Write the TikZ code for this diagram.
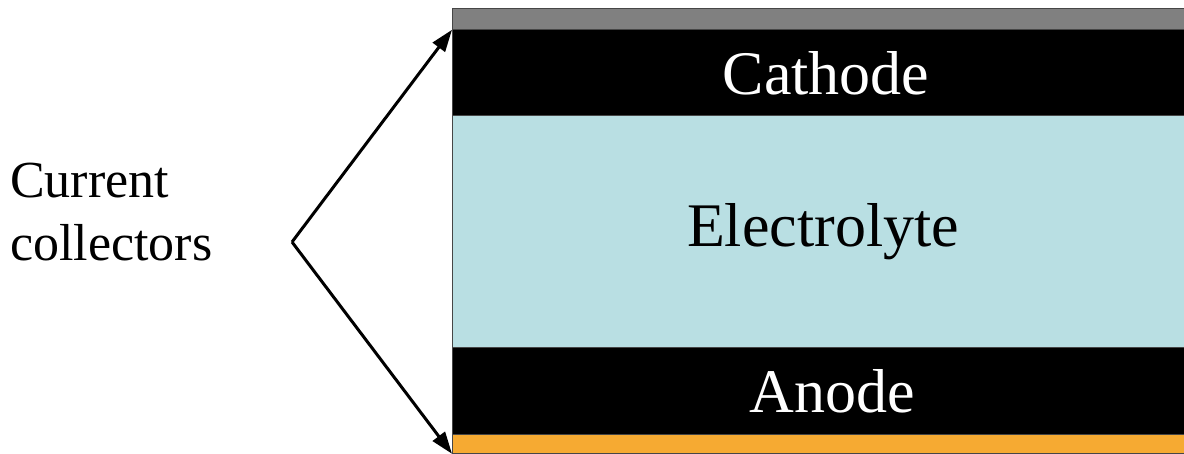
\documentclass[tikz,border=0pt]{standalone}
\usepackage{fontspec}
\setmainfont{Liberation Serif}
\newfontfamily\timesfont{Liberation Serif}
\usetikzlibrary{arrows.meta}
\definecolor{collgray}{RGB}{128,128,128}
\definecolor{electro}{RGB}{185,223,227}
\definecolor{collorange}{RGB}{246,170,50}
\definecolor{edgegray}{RGB}{70,70,70}
\begin{document}
\begin{tikzpicture}[x=1pt,y=-1pt,
  layer/.style={draw=edgegray,line width=0.8pt,inner sep=0pt,anchor=north west,minimum width=760pt},
  lbl/.style={font=\timesfont\fontsize{62}{74}\selectfont,inner sep=0pt},
  pointer/.style={line width=3pt,-{Triangle[length=22pt,width=15pt]}}]
\useasboundingbox (0,0) rectangle (1184,454);
\node[layer,fill=collgray,minimum height=21pt] (top) at (452,8) {};
\node[layer,fill=black,minimum height=86pt] (cathode) at (452,29) {};
\node[layer,fill=electro,minimum height=232pt] (electrolyte) at (452,115) {};
\node[layer,fill=black,minimum height=87pt] (anode) at (452,347) {};
\node[layer,fill=collorange,minimum height=19pt] (bottom) at (452,434) {};
\node[lbl,text=white] (tc) at (826,73) {Cathode};
\node[lbl] (te) at (823,232) {Electrolyte};
\node[lbl,text=white] (ta) at (832,391) {Anode};
\node[font=\timesfont\fontsize{52}{63}\selectfont,align=left,inner sep=0pt,anchor=west] (cc) at (10,212) {Current\\collectors};
\coordinate (apex) at (292,242);
\draw[pointer] (apex) -- (top.south west);
\draw[pointer] (apex) -- (bottom.south west);
\end{tikzpicture}
\end{document}
